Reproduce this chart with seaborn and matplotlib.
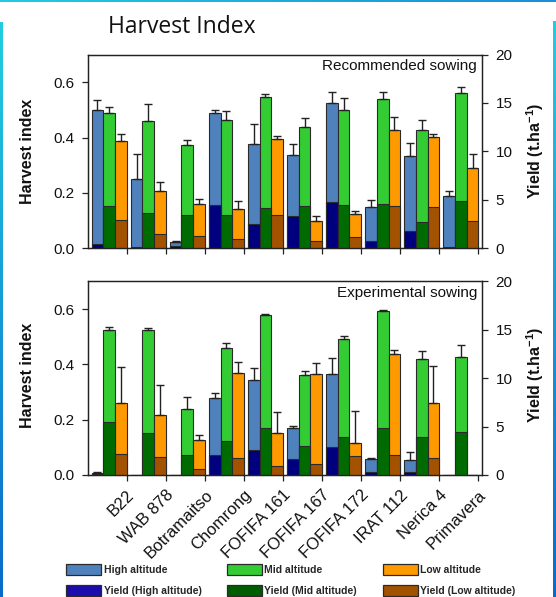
import numpy as np
import pandas as pd
import matplotlib
matplotlib.use("Agg")
import matplotlib.pyplot as plt
from matplotlib.patches import Patch
from matplotlib.colors import LinearSegmentedColormap
import seaborn as sns

# ---------------- data ----------------
varieties = ["B22", "WAB 878", "Botramaitso", "Chomrong", "FOFIFA 161",
             "FOFIFA 167", "FOFIFA 172", "IRAT 112", "Nerica 4", "Primavera"]
altitudes = ["High altitude", "Mid altitude", "Low altitude"]

# Recommended sowing: harvest index (mean, upper error) and yield (t/ha)
rec_hi_high = [0.499, 0.251, 0.023, 0.487, 0.378, 0.337, 0.525, 0.148, 0.335, 0.188]
rec_err_high = [0.036, 0.091, 0.003, 0.014, 0.070, 0.040, 0.039, 0.025, 0.046, 0.020]
rec_hi_mid = [0.487, 0.461, 0.373, 0.463, 0.547, 0.437, 0.499, 0.539, 0.427, 0.560]
rec_err_mid = [0.023, 0.059, 0.017, 0.032, 0.012, 0.034, 0.043, 0.027, 0.037, 0.021]
rec_hi_low = [0.389, 0.208, 0.159, 0.142, 0.394, 0.100, 0.124, 0.427, 0.402, 0.289]
rec_err_low = [0.025, 0.033, 0.019, 0.030, 0.010, 0.017, 0.010, 0.049, 0.010, 0.051]
rec_yield_high = [0.45, 0.17, 0.20, 4.47, 2.51, 3.37, 4.82, 0.79, 1.82, 0.10]
rec_yield_mid = [4.40, 3.65, 3.44, 3.44, 4.13, 4.34, 4.47, 4.58, 2.75, 4.92]
rec_yield_low = [2.90, 1.48, 1.31, 0.93, 3.44, 0.76, 1.14, 4.37, 4.23, 2.86]

# Experimental sowing
exp_hi_high = [0.006, 0.0, 0.0, 0.277, 0.342, 0.169, 0.367, 0.057, 0.053, 0.0]
exp_err_high = [0.004, 0.0, 0.0, 0.021, 0.044, 0.008, 0.055, 0.006, 0.030, 0.0]
exp_hi_mid = [0.524, 0.524, 0.237, 0.459, 0.577, 0.361, 0.492, 0.594, 0.418, 0.425]
exp_err_mid = [0.012, 0.009, 0.044, 0.018, 0.007, 0.014, 0.012, 0.002, 0.029, 0.044]
exp_hi_low = [0.260, 0.216, 0.127, 0.369, 0.151, 0.364, 0.116, 0.436, 0.259, 0.0]
exp_err_low = [0.132, 0.111, 0.016, 0.039, 0.076, 0.040, 0.117, 0.016, 0.136, 0.0]
exp_yield_high = [0.15, 0.0, 0.0, 2.03, 2.55, 1.62, 2.89, 0.31, 0.31, 0.0]
exp_yield_mid = [5.44, 4.30, 2.03, 3.48, 4.82, 3.03, 3.96, 4.89, 3.89, 4.48]
exp_yield_low = [2.13, 1.82, 0.59, 1.79, 0.90, 1.14, 1.93, 2.03, 1.72, 0.0]

hi_colors = ["#4F81BD", "#33CC33", "#FF9900"]
yield_colors = ["#00007F", "#006B00", "#A35200"]
yield_legend_colors = ["#1A0DAB", "#005C00", "#A35200"]

# ---------------- style ----------------
sns.set_theme(style="ticks")
plt.rcParams["font.family"] = ["Liberation Sans", "DejaVu Sans"]
plt.rcParams["mathtext.fontset"] = "custom"
plt.rcParams["mathtext.bf"] = "Liberation Sans:bold"
plt.rcParams["mathtext.rm"] = "Liberation Sans"

EDGE = "#2a2a2a"
BAR_W = 0.9          # total width of one variety group
N_ALT = len(altitudes)


def long_frame(high, mid, low):
    return pd.DataFrame({
        "variety": varieties * N_ALT,
        "altitude": [a for a in altitudes for _ in varieties],
        "value": list(high) + list(mid) + list(low),
    })


def draw_panel(ax, his, errs, yields, caption, show_labels):
    hi_df = long_frame(*his)
    sns.barplot(data=hi_df, x="variety", y="value", hue="altitude",
                order=varieties, hue_order=altitudes, palette=hi_colors,
                width=BAR_W, saturation=1, errorbar=None, legend=False,
                edgecolor=EDGE, linewidth=0.8, ax=ax)

    # upper-only error bars at the centre of every bar
    base = np.arange(len(varieties))
    step = BAR_W / N_ALT
    for j, (vals, err) in enumerate(zip(his, errs)):
        vals = np.asarray(vals)
        err = np.asarray(err)
        keep = err > 0
        xs = base + (j - (N_ALT - 1) / 2) * step
        ax.errorbar(xs[keep], vals[keep],
                    yerr=[np.zeros(keep.sum()), err[keep]],
                    fmt="none", ecolor="#222222", elinewidth=1.0,
                    capsize=2.6, capthick=1.0, zorder=3)

    ax2 = ax.twinx()
    y_df = long_frame(*yields)
    sns.barplot(data=y_df, x="variety", y="value", hue="altitude",
                order=varieties, hue_order=altitudes, palette=yield_colors,
                width=BAR_W, saturation=1, errorbar=None, legend=False,
                edgecolor=EDGE, linewidth=0.8, ax=ax2)

    for a in (ax, ax2):
        a.set_xlim(-0.55, len(varieties) - 0.45)
        a.set_xlabel("")
        a.set_ylabel("")
        for s in a.spines.values():
            s.set_visible(True)
            s.set_color("#222222")
            s.set_linewidth(0.9)

    ax.set_ylim(0, 0.7)
    ax.set_yticks([0.0, 0.2, 0.4, 0.6])
    ax.set_yticklabels(["0.0", "0.2", "0.4", "0.6"])
    ax2.set_ylim(0, 20)
    ax2.set_yticks([0, 5, 10, 15, 20])
    ax2.set_yticklabels(["0", "5", "10", "15", "20"])

    ax.set_xticks(base + BAR_W / 2)
    if show_labels:
        ax.set_xticklabels(varieties, rotation=45, ha="right",
                           rotation_mode="anchor", fontsize=12)
    else:
        ax.set_xticklabels([])
    ax2.tick_params(axis="x", which="both", bottom=False, top=False,
                    labelbottom=False)

    ax.tick_params(axis="y", direction="out", length=4, width=0.9,
                   color="#222222", labelsize=11, pad=5.5,
                   labelcolor="#111111")
    ax.tick_params(axis="x", direction="out", length=4, width=0.9,
                   color="#222222", pad=5, labelcolor="#111111")
    ax2.tick_params(axis="y", direction="out", length=4, width=0.9,
                    color="#222222", labelsize=11, pad=5.5,
                    labelcolor="#111111")

    ax2.text(0.987, 0.975, caption, transform=ax2.transAxes, ha="right",
             va="top", fontsize=11, color="#111111", zorder=5)
    return ax2


fig = plt.figure(figsize=(5.56, 5.97), dpi=100)
ax_top = fig.add_axes([0.1577, 0.5841, 0.7097, 0.3246])
ax_bot = fig.add_axes([0.1577, 0.2044, 0.7097, 0.3241])

draw_panel(ax_top,
           (rec_hi_high, rec_hi_mid, rec_hi_low),
           (rec_err_high, rec_err_mid, rec_err_low),
           (rec_yield_high, rec_yield_mid, rec_yield_low),
           "Recommended sowing", show_labels=False)
draw_panel(ax_bot,
           (exp_hi_high, exp_hi_mid, exp_hi_low),
           (exp_err_high, exp_err_mid, exp_err_low),
           (exp_yield_high, exp_yield_mid, exp_yield_low),
           "Experimental sowing", show_labels=True)

# axis titles on both sides of each panel
for yc in (0.747, 0.372):
    fig.text(27.5 / 556, yc, "Harvest index", rotation=90, ha="center",
             va="center", fontsize=11.5, fontweight="bold", color="#111111")
    fig.text(535 / 556, yc, r"Yield (t.ha$^{\mathbf{-1}}$)", rotation=90,
             ha="center", va="center", fontsize=11.5, fontweight="bold",
             color="#111111")

fig.text(108 / 556, 1 - 32.7 / 597, "Harvest Index", family="Open Sans",
         fontsize=16.5, ha="left", va="baseline", color="#111111")

# legend: harvest index fills on the first row, yield fills on the second
handles = []
for c_hi, c_y, alt in zip(hi_colors, yield_legend_colors, altitudes):
    handles.append(Patch(facecolor=c_hi, edgecolor=EDGE, linewidth=0.9,
                         label=alt))
    handles.append(Patch(facecolor=c_y, edgecolor=EDGE, linewidth=0.9,
                         label=f"Yield ({alt})"))
fig.legend(handles=handles, ncol=3, loc="lower left",
           bbox_to_anchor=(66 / 556, 1.0 / 597), frameon=False,
           borderpad=0, borderaxespad=0, handlelength=3.4, handleheight=1.2,
           handletextpad=0.2, columnspacing=2.45, labelspacing=0.95,
           prop={"size": 7.5, "weight": "bold"})

# slide frame accents
edge_cmap = LinearSegmentedColormap.from_list("edge", ["#0A6ACB", "#22CDE0"])
top_cmap = LinearSegmentedColormap.from_list("topedge", ["#22CBE0", "#1A8ED8"])
grad = np.linspace(0, 1, 256)
for rect in ([0, 0, 3 / 556, 1 - 22 / 597], [553 / 556, 0, 3 / 556, 1 - 21 / 597]):
    a = fig.add_axes(rect)
    a.imshow(grad[::-1, None], aspect="auto", cmap=edge_cmap)
    a.set_axis_off()
a = fig.add_axes([0, 1 - 2 / 597, 1, 2 / 597])
a.imshow(grad[None, :], aspect="auto", cmap=top_cmap)
a.set_axis_off()

fig.savefig("out.png", dpi=100, facecolor="white")
